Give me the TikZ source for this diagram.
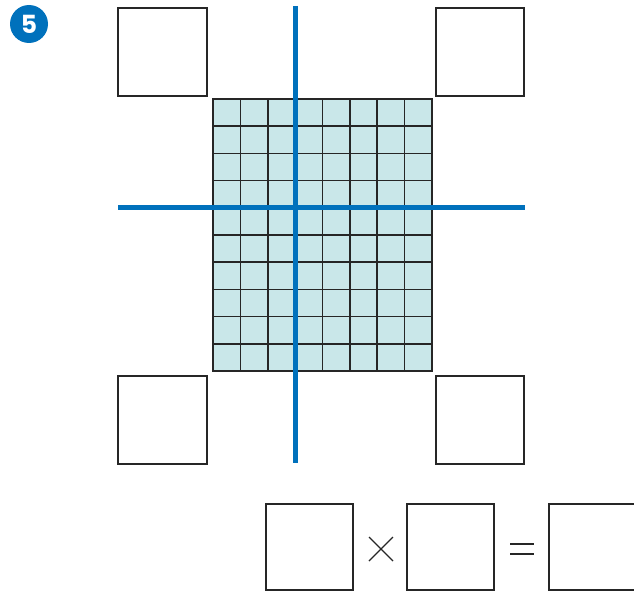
\documentclass[tikz,border=0pt]{standalone}
\usepackage{fontspec}
\setmainfont{Liberation Sans}
\newfontfamily\badgefont{Poppins}[UprightFont=* Bold]
\begin{document}
\begin{tikzpicture}[x=1pt,y=-1pt,
  boxsq/.style={draw=black!85,line width=1.8pt,fill=none},
  bluelin/.style={draw=axisblue,line width=5pt},
  gridlin/.style={draw=black!85,line width=1.7pt}]
\definecolor{axisblue}{HTML}{0071BC}
\definecolor{cellfill}{HTML}{C9E7E9}
\useasboundingbox (0,0) rectangle (634,591);
\begin{scope}
\clip (0,0) rectangle (634,591);
% badge
\node[circle,fill=axisblue,minimum size=38pt,inner sep=0pt,text=white,font=\badgefont\fontsize{25}{25}\selectfont] (badge) at (29,24) {5};
% corner boxes
\draw[boxsq] (118,8) rectangle (207,96);
\draw[boxsq] (436,8) rectangle (524,96);
\draw[boxsq] (118,376) rectangle (207,464);
\draw[boxsq] (436,376) rectangle (524,464);
% grid
\fill[cellfill] (213,99) rectangle (432,371);
\foreach \i in {1,...,7} {\draw[gridlin] ({213+\i*27.375},99) -- ({213+\i*27.375},371);}
\foreach \j in {1,...,9} {\draw[gridlin] (213,{99+\j*27.2}) -- (432,{99+\j*27.2});}
\draw[draw=black!85,line width=2.5pt] (213,99) rectangle (432,371);
% blue lines
\draw[bluelin] (295,6) -- (295,463);
\draw[bluelin] (118,207.5) -- (525,207.5);
% bottom equation
\draw[boxsq] (266,504) rectangle (353,590);
\draw[boxsq] (407,504) rectangle (494,590);
\draw[boxsq] (549,504) rectangle (640,590);
\draw[black!85,line width=1.2pt] (369,537) -- (393,561) (369,561) -- (393,537);
\draw[black!85,line width=1.2pt] (510,544) -- (534,544) (510,554) -- (534,554);
\end{scope}
\end{tikzpicture}
\end{document}
